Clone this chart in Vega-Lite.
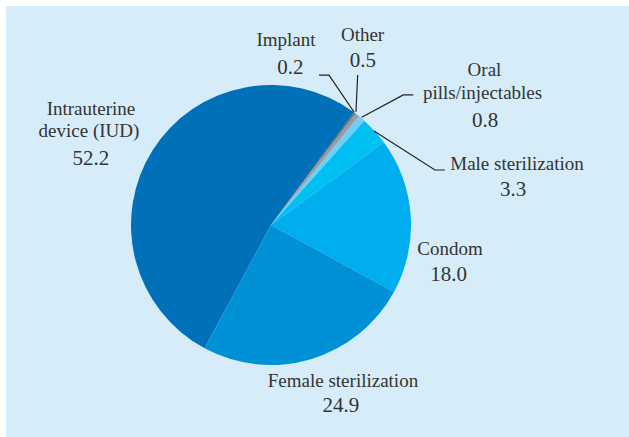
{
  "$schema": "https://vega.github.io/schema/vega-lite/v6.json",
  "width": 629,
  "height": 437,
  "autosize": {"type": "fit", "contains": "padding"},
  "padding": {"left": 6, "top": 6, "right": 0, "bottom": 0},
  "background": "white",
  "config": {"view": {"fill": "#d6edf9", "stroke": null}, "text": {"font": "Times New Roman, Liberation Serif, DejaVu Serif, serif"}},
  "datasets": {
    "slices": [
      {"cat": "Intrauterine device (IUD)", "pct": 52.2, "ord": 1},
      {"cat": "Implant", "pct": 0.2, "ord": 2},
      {"cat": "Other", "pct": 0.5, "ord": 3},
      {"cat": "Oral pills/injectables", "pct": 0.8, "ord": 4},
      {"cat": "Male sterilization", "pct": 3.3, "ord": 5},
      {"cat": "Condom", "pct": 18.0, "ord": 6},
      {"cat": "Female sterilization", "pct": 24.9, "ord": 7}
    ],
    "labels": [
      {"t": "Intrauterine", "kind": "name", "u": -128.6, "v": 78.6},
      {"t": "device (IUD)", "kind": "name", "u": -130.0, "v": 62.9},
      {"t": "52.2", "kind": "value", "u": -128.6, "v": 42.9},
      {"t": "Implant", "kind": "name", "u": 10.7, "v": 127.9},
      {"t": "0.2", "kind": "value", "u": 13.9, "v": 107.9},
      {"t": "Other", "kind": "name", "u": 65.4, "v": 131.6},
      {"t": "0.5", "kind": "value", "u": 65.7, "v": 113.1},
      {"t": "Oral", "kind": "name", "u": 152.5, "v": 106.4},
      {"t": "pills/injectables", "kind": "name", "u": 151.1, "v": 90.0},
      {"t": "0.8", "kind": "value", "u": 152.9, "v": 70.2},
      {"t": "Male sterilization", "kind": "name", "u": 175.7, "v": 39.3},
      {"t": "3.3", "kind": "value", "u": 172.9, "v": 20.7},
      {"t": "Condom", "kind": "name", "u": 127.9, "v": -21.4},
      {"t": "18.0", "kind": "value", "u": 126.8, "v": -39.8},
      {"t": "Female sterilization", "kind": "name", "u": 51.4, "v": -115.5},
      {"t": "24.9", "kind": "value", "u": 50.0, "v": -133.6}
    ],
    "leaders": [
      {"lid": "Implant", "k": 1, "u": 34.3, "v": 107.1},
      {"lid": "Implant", "k": 2, "u": 41.4, "v": 107.1},
      {"lid": "Implant", "k": 3, "u": 59.3, "v": 80.7},
      {"lid": "Other", "k": 1, "u": 61.9, "v": 107.1},
      {"lid": "Other", "k": 2, "u": 60.7, "v": 80.9},
      {"lid": "Oral", "k": 1, "u": 101.6, "v": 92.9},
      {"lid": "Oral", "k": 2, "u": 94.5, "v": 92.9},
      {"lid": "Oral", "k": 3, "u": 64.8, "v": 76.9},
      {"lid": "Male", "k": 1, "u": 124.3, "v": 39.3},
      {"lid": "Male", "k": 2, "u": 117.1, "v": 39.3},
      {"lid": "Male", "k": 3, "u": 73.6, "v": 67.1}
    ]
  },
  "layer": [
    {
      "data": {"name": "slices"},
      "mark": {"type": "arc", "outerRadius": 140},
      "encoding": {
        "x": {"datum": 0, "type": "quantitative", "scale": {"domain": [-189.2857, 255.7143], "nice": false, "zero": false}, "axis": null},
        "y": {"datum": 0, "type": "quantitative", "scale": {"domain": [-151.4286, 156.4286], "nice": false, "zero": false}, "axis": null},
        "theta": {"field": "pct", "type": "quantitative", "stack": true, "scale": {"range": [3.6355, 9.9187]}},
        "color": {
          "field": "cat", "type": "nominal", "legend": null,
          "scale": {
            "domain": ["Intrauterine device (IUD)", "Implant", "Other", "Oral pills/injectables", "Male sterilization", "Condom", "Female sterilization"],
            "range": ["#0070b9", "#6d6e71", "#9a9b9e", "#6dcff6", "#00bff2", "#00aeef", "#0090d6"]
          }
        },
        "order": {"field": "ord", "type": "quantitative"}
      }
    },
    {
      "data": {"name": "leaders"},
      "mark": {"type": "line", "color": "#231f20", "strokeWidth": 1.2},
      "encoding": {
        "x": {"field": "u", "type": "quantitative", "scale": {"domain": [-189.2857, 255.7143], "nice": false, "zero": false}, "axis": null},
        "y": {"field": "v", "type": "quantitative", "scale": {"domain": [-151.4286, 156.4286], "nice": false, "zero": false}, "axis": null},
        "detail": {"field": "lid", "type": "nominal"},
        "order": {"field": "k", "type": "quantitative"}
      }
    },
    {
      "data": {"name": "labels"},
      "mark": {"type": "text", "font": "Liberation Serif", "color": "#333333", "align": "center", "baseline": "alphabetic"},
      "encoding": {
        "x": {"field": "u", "type": "quantitative", "scale": {"domain": [-189.2857, 255.7143], "nice": false, "zero": false}, "axis": null},
        "y": {"field": "v", "type": "quantitative", "scale": {"domain": [-151.4286, 156.4286], "nice": false, "zero": false}, "axis": null},
        "text": {"field": "t", "type": "nominal"},
        "size": {"field": "kind", "type": "nominal", "legend": null, "scale": {"domain": ["name", "value"], "range": [19, 21]}}
      }
    }
  ]
}
